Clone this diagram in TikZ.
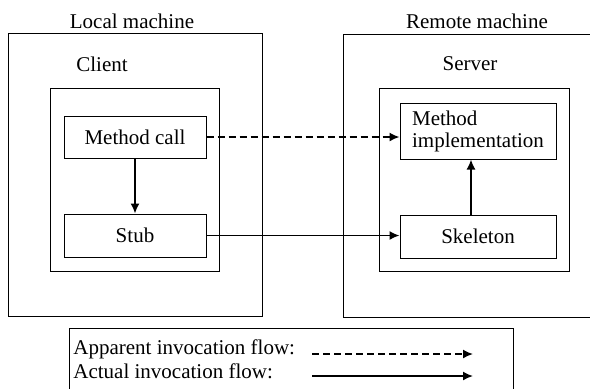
\documentclass[tikz,border=0pt]{standalone}
\usepackage{fontspec}
\setmainfont{Liberation Serif}
\usetikzlibrary{arrows.meta}

\begin{document}
\begin{tikzpicture}[x=0.5pt,y=-0.5pt,
    every node/.style={font=\fontsize{10.5}{11}\selectfont},
    frame/.style={draw, line width=0.5pt, inner sep=0pt},
    flow/.style={line width=0.8pt, -{Latex[length=5pt,width=4.5pt]}},
    apparent/.style={flow, dash pattern=on 3.5pt off 2pt}]
    \useasboundingbox (0,0) rectangle (590,388);

    % machines
    \node[frame, minimum width=127pt, minimum height=141.5pt] at (135,174.5)   (local)  {};
    \node[frame, minimum width=128.5pt, minimum height=141.5pt] at (471.5,175.5) (remote) {};
    \node at (132,21)  (locallbl)  {Local machine};
    \node at (477,21)  (remotelbl) {Remote machine};

    % client and server
    \node[frame, minimum width=84.5pt, minimum height=91.5pt] at (134.5,179.5) (client) {};
    \node[frame, minimum width=95pt, minimum height=91.5pt] at (474,179.5)     (server) {};
    \node at (102,64)  (clientlbl) {Client};
    \node at (470,64)  (serverlbl) {Server};

    \node[frame, minimum width=71pt, minimum height=21pt] at (135,137)   (call) {Method call};
    \node[frame, minimum width=71pt, minimum height=21.5pt] at (135,235.5) (stub) {Stub};
    \node[frame, minimum width=78pt, minimum height=28pt, align=left] at (478,131) (impl) {Method\\implementation};
    \node[frame, minimum width=78pt, minimum height=21.5pt] at (478,236.5) (skel) {Skeleton};

    \draw[flow] (call) -- (stub);
    \draw[flow] (stub.east) -- (stub.east -| skel.west);
    \draw[flow] ([xshift=-3.5pt]skel.north) -- ([xshift=-3.5pt]impl.south);
    \draw[apparent] (call.east) -- (call.east -| impl.west);

    % legend
    \node[frame, minimum width=222pt, minimum height=36pt] at (291,364) (legend) {};
    \node[anchor=base west, inner sep=0pt] at (73,354) (apparentlbl) {Apparent invocation flow:};
    \node[anchor=base west, inner sep=0pt] at (73,378) (actuallbl)   {Actual invocation flow:};
    \coordinate (a1) at (312,354);
    \coordinate (a2) at (473,354);
    \coordinate (b1) at (312,376);
    \coordinate (b2) at (473,376);
    \draw[apparent] (a1) -- (a2);
    \draw[flow] (b1) -- (b2);
\end{tikzpicture}
\end{document}
